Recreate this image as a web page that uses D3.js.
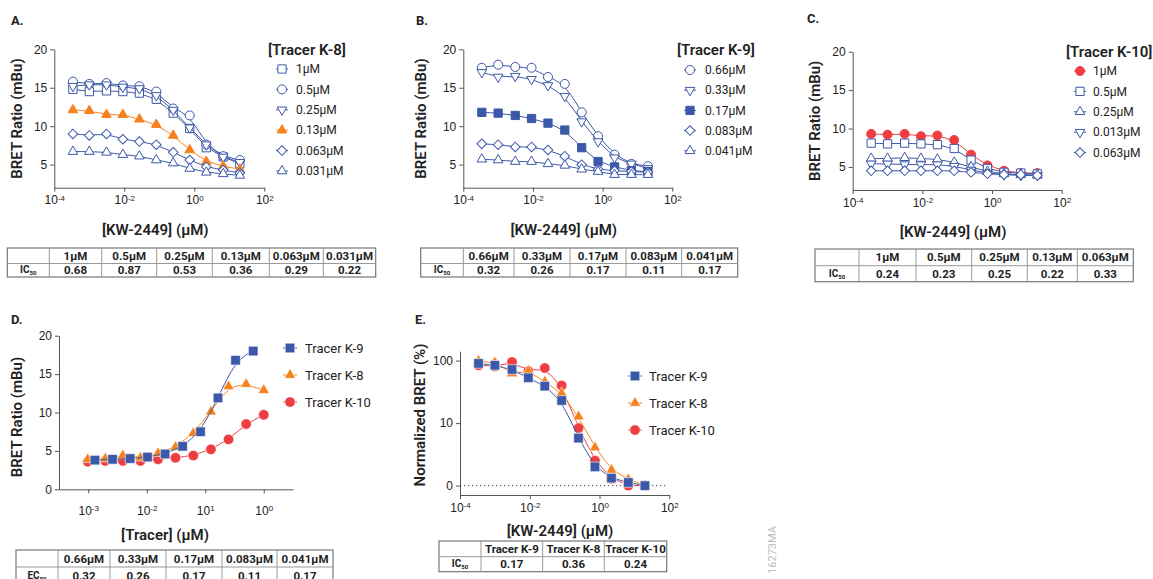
<!DOCTYPE html>
<html>
<head>
<meta charset="utf-8">
<script src="https://cdn.jsdelivr.net/npm/d3@7"></script>
<style>
  body { margin: 0; background: #fff; }
  svg { font-family: Roboto, "Noto Sans", sans-serif; }
</style>
</head>
<body>
<svg id="chart" width="1153" height="579"></svg>
<script>
// ---- data ----
// KW-2449 dilution series (µM), used by panels A, B, C and E
const kwConc = [0.00034, 0.001, 0.0031, 0.0091, 0.027, 0.082, 0.25, 0.74, 2.2, 6.7, 20];

// Panel A: Tracer K-8
const k8Labels = ['1µM', '0.5µM', '0.25µM', '0.13µM', '0.063µM', '0.031µM'];
const k8_1 = [14.8, 14.5, 14.6, 14.5, 14.3, 13.5, 11.7, 9.7, 7.2, 6.0, 5.1];
const k8_05 = [15.8, 15.5, 15.6, 15.3, 15.2, 14.5, 12.3, 11.4, 7.6, 6.1, 5.6];
const k8_025 = [15.2, 15.4, 15.4, 15.1, 14.9, 14.0, 12.1, 9.8, 7.6, 6.0, 5.3];
const k8_013 = [12.1, 12.0, 11.5, 11.5, 10.9, 10.2, 8.8, 6.9, 5.4, 4.8, 4.4];
const k8_0063 = [9.0, 8.8, 9.0, 8.3, 8.0, 7.6, 6.6, 5.6, 4.7, 4.3, 3.9];
const k8_0031 = [6.7, 6.7, 6.6, 6.3, 6.1, 5.6, 5.2, 4.5, 4.0, 3.8, 3.6];
const k8IC50 = ['0.68', '0.87', '0.53', '0.36', '0.29', '0.22'];

// Panel B: Tracer K-9
const k9Labels = ['0.66µM', '0.33µM', '0.17µM', '0.083µM', '0.041µM'];
const k9_066 = [17.6, 18.0, 17.7, 17.6, 16.4, 15.5, 11.8, 8.7, 6.3, 5.1, 4.8];
const k9_033 = [17.0, 16.4, 16.5, 16.1, 15.3, 13.9, 10.6, 8.0, 5.9, 5.1, 4.5];
const k9_017 = [11.8, 11.7, 11.4, 11.0, 10.4, 9.5, 7.2, 5.4, 4.7, 4.2, 4.1];
const k9_0083 = [7.7, 7.6, 7.3, 7.3, 6.9, 6.1, 5.0, 4.4, 4.2, 4.1, 4.0];
const k9_0041 = [5.7, 5.6, 5.4, 5.4, 5.1, 4.9, 4.4, 4.1, 3.7, 3.7, 3.7];
const k9IC50 = ['0.32', '0.26', '0.17', '0.11', '0.17'];

// Panel C: Tracer K-10
const k10Labels = ['1µM', '0.5µM', '0.25µM', '0.013µM', '0.063µM'];
const k10TableLabels = ['1µM', '0.5µM', '0.25µM', '0.13µM', '0.063µM'];
const k10_1 = [9.3, 9.2, 9.3, 9.0, 9.1, 8.5, 6.6, 5.2, 4.5, 4.2, 4.2];
const k10_05 = [8.1, 8.0, 8.1, 8.0, 7.9, 7.4, 5.9, 4.8, 4.3, 4.2, 4.1];
const k10_025 = [6.1, 6.1, 6.2, 6.1, 6.0, 5.6, 5.0, 4.4, 4.1, 4.0, 3.9];
const k10_0013 = [5.4, 5.4, 5.3, 5.3, 5.3, 5.1, 4.6, 4.2, 4.0, 3.9, 3.9];
const k10_0063 = [4.5, 4.5, 4.5, 4.5, 4.5, 4.5, 4.3, 4.1, 4.0, 4.0, 3.9];
const k10IC50 = ['0.24', '0.23', '0.25', '0.22', '0.33'];

// Panel D: tracer titrations
const dConcK9 = [0.0013, 0.0026, 0.0052, 0.0103, 0.0206, 0.041, 0.083, 0.165, 0.33, 0.66];
const dConcK8 = [0.00098, 0.00195, 0.0039, 0.0078, 0.0156, 0.031, 0.0625, 0.125, 0.25, 0.5, 1];
const dK9 = [3.8, 3.9, 4.0, 4.2, 4.6, 5.6, 7.5, 11.9, 16.8, 18.0];
const dK8 = [3.9, 4.0, 4.4, 4.1, 4.7, 5.5, 7.3, 10.1, 13.4, 13.7, 12.9];
const dK10 = [3.6, 3.7, 3.7, 3.7, 3.9, 4.1, 4.4, 5.2, 6.5, 8.5, 9.7];
const dTickValues = [0.001, 0.01, 0.1, 1];
const dTickExp = ['-3', '-2', '1', '0'];
const dTableLabels = ['0.66µM', '0.33µM', '0.17µM', '0.083µM', '0.041µM'];
const dEC50 = ['0.32', '0.26', '0.17', '0.11', '0.17'];

// Panel E: normalized BRET (%)
const eK9 = [90, 84, 72, 53, 39, 23, 7.6, 3.0, 1.2, 0.5, 0];
const eK8 = [99, 93, 62, 68, 46, 30, 12.7, 6.1, 2.5, 1.0, 0];
const eK10 = [84, 81, 95, 68, 76, 40, 9.2, 4.0, 1.1, 0, 0];
const eTickValues = [0, 10, 100];
const tracerNames = ['Tracer K-9', 'Tracer K-8', 'Tracer K-10'];
const eIC50 = ['0.17', '0.36', '0.24'];

const kwTickValues = [1e-4, 1e-2, 1, 1e2];
const kwTickExp = ['-4', '-2', '0', '2'];
const bretTicks = [5, 10, 15, 20];

// ---- styles ----
const BLUE = '#3c58a8';
const ORANGE = '#f5821f';
const RED = '#ee3e42';
const AXIS = '#555';
const TEXT = '#222';

const svg = d3.select('#chart');

function symbolPath(kind, size) {
  if (kind === 'circle') return d3.symbol(d3.symbolCircle, size)();
  if (kind === 'square' || kind === 'diamond') return d3.symbol(d3.symbolSquare, size)();
  return d3.symbol(d3.symbolTriangle, size)();
}
function symbolRotate(kind) {
  if (kind === 'down') return ' rotate(180)';
  if (kind === 'diamond') return ' rotate(45)';
  return '';
}
function markerSize(kind, big) {
  const k = big ? 1.35 : 1;
  if (kind === 'circle') return 64 * k;
  if (kind === 'square') return 68 * k;
  if (kind === 'diamond') return 46 * k;
  return 40 * k;
}

function drawMarker(g, x, y, s, big) {
  g.append('path')
    .attr('d', symbolPath(s.shape, markerSize(s.shape, big)))
    .attr('transform', `translate(${x},${y})${symbolRotate(s.shape)}`)
    .attr('fill', s.filled ? s.color : '#fff')
    .attr('stroke', s.filled ? (big ? '#fff' : s.color) : s.color)
    .attr('stroke-width', s.filled && big ? 0.6 : 1);
}

function superLabels(axisG, exps) {
  axisG.selectAll('.tick text').each(function(d, i) {
    const t = d3.select(this).text(null);
    t.append('tspan').text('10');
    t.append('tspan').attr('dy', '-0.45em').style('font-size', '8px').text(exps[i]);
  });
}

function styleAxis(g) {
  g.selectAll('.domain, .tick line').attr('stroke', AXIS);
  g.selectAll('.tick text').attr('fill', TEXT).style('font-size', '12px');
}

function drawSeries(g, x, y, xs, s, big) {
  const pts = s.values.map((v, i) => [x(xs[i]), y(v)]);
  g.append('path')
    .attr('d', d3.line().curve(d3.curveBasis)(pts))
    .attr('fill', 'none')
    .attr('stroke', s.color)
    .attr('stroke-width', 1);
  pts.forEach(p => drawMarker(g, p[0], p[1], s, big));
}

function drawLegend(g, lg, series, big) {
  if (lg.title) {
    g.append('text').attr('x', lg.titleX).attr('y', lg.titleY).attr('dy', '0.35em')
      .attr('fill', TEXT).style('font-size', '15px').style('font-weight', 600)
      .text(lg.title);
  }
  series.forEach((s, i) => {
    const yy = lg.y0 + i * lg.step;
    g.append('line').attr('x1', lg.mx - lg.half).attr('x2', lg.mx + lg.half)
      .attr('y1', yy).attr('y2', yy).attr('stroke', s.color).attr('stroke-width', 1);
    drawMarker(g, lg.mx, yy, s, big);
    g.append('text').attr('x', lg.tx).attr('y', yy).attr('dy', '0.35em')
      .attr('fill', TEXT).style('font-size', lg.fontSize)
      .text(s.label);
  });
}

function drawTable(t) {
  const g = svg.append('g');
  const xs = t.cols;
  const ys = t.rows;
  const x0 = xs[0], x1 = xs[xs.length - 1];
  g.append('rect').attr('x', x0).attr('y', ys[0]).attr('width', x1 - x0).attr('height', ys[2] - ys[0])
    .attr('fill', 'none').attr('stroke', '#777').attr('stroke-width', 1.2);
  g.append('line').attr('x1', x0).attr('x2', x1).attr('y1', ys[1]).attr('y2', ys[1])
    .attr('stroke', '#999');
  xs.slice(1, -1).forEach(cx => {
    g.append('line').attr('x1', cx).attr('x2', cx).attr('y1', ys[0]).attr('y2', ys[2])
      .attr('stroke', '#999');
  });
  t.headers.forEach((h, i) => {
    g.append('text').attr('x', (xs[i + 1] + xs[i + 2]) / 2).attr('y', (ys[0] + ys[1]) / 2)
      .attr('dy', '0.36em').attr('text-anchor', 'middle').attr('fill', TEXT)
      .style('font-size', '11.5px').style('font-weight', 'bold').text(h);
  });
  t.values.forEach((v, i) => {
    g.append('text').attr('x', (xs[i + 1] + xs[i + 2]) / 2).attr('y', (ys[1] + ys[2]) / 2)
      .attr('dy', '0.36em').attr('text-anchor', 'middle').attr('fill', TEXT)
      .style('font-size', '11.5px').style('font-weight', 'bold').text(v);
  });
  const lab = g.append('text').attr('x', (xs[0] + xs[1]) / 2).attr('y', (ys[1] + ys[2]) / 2)
    .attr('dy', '0.3em').attr('text-anchor', 'middle').attr('fill', TEXT)
    .style('font-size', '10px').style('font-weight', 'bold');
  lab.append('tspan').text(t.rowLabel);
  lab.append('tspan').attr('dy', '0.35em').style('font-size', '6px').text('50');
}

function panelLetter(x, y, txt) {
  svg.append('text').attr('x', x).attr('y', y).attr('fill', TEXT)
    .style('font-size', '13px').style('font-weight', 'bold').text(txt);
}

function axisTitleX(x, y, txt) {
  svg.append('text').attr('x', x).attr('y', y).attr('text-anchor', 'middle')
    .attr('fill', TEXT).style('font-size', '15px').style('font-weight', 600).text(txt);
}
function axisTitleY(x, y, txt) {
  svg.append('text').attr('transform', `translate(${x},${y}) rotate(-90)`)
    .attr('text-anchor', 'middle').attr('dy', '0.35em')
    .attr('fill', TEXT).style('font-size', '15px').style('font-weight', 600).text(txt);
}

// ---- panels A, B, C (BRET ratio vs KW-2449) ----
function drawBretPanel(p) {
  const g = svg.append('g');
  const x = d3.scaleLog().domain([1e-4, 1e2]).range([p.left, p.right]);
  const y = d3.scaleLinear().domain([2, 20]).range([p.bottom, p.top]);

  const gx = g.append('g').attr('transform', `translate(0,${p.bottom})`)
    .call(d3.axisBottom(x).tickValues(kwTickValues).tickSize(4).tickPadding(4).tickSizeOuter(0));
  superLabels(gx, kwTickExp);
  styleAxis(gx);

  const gy = g.append('g').attr('transform', `translate(${p.left},0)`)
    .call(d3.axisLeft(y).tickValues(bretTicks).tickSize(4).tickPadding(3).tickSizeOuter(0));
  styleAxis(gy);

  p.series.forEach(s => drawSeries(g, x, y, kwConc, s, false));
  drawLegend(g, p.legend, p.series, false);

  axisTitleX((p.left + p.right) / 2 - 4, p.xTitleY, '[KW-2449] (µM)');
  axisTitleY(p.yTitleX, (p.top + p.bottom) / 2, 'BRET Ratio (mBu)');
}

panelLetter(11, 25, 'A.');
drawBretPanel({
  left: 54.3, right: 264.3, top: 49.3, bottom: 187.7,
  xTitleY: 235, yTitleX: 17,
  series: [
    { label: k8Labels[0], values: k8_1, shape: 'square', color: BLUE },
    { label: k8Labels[1], values: k8_05, shape: 'circle', color: BLUE },
    { label: k8Labels[2], values: k8_025, shape: 'down', color: BLUE },
    { label: k8Labels[3], values: k8_013, shape: 'up', color: ORANGE, filled: true },
    { label: k8Labels[4], values: k8_0063, shape: 'diamond', color: BLUE },
    { label: k8Labels[5], values: k8_0031, shape: 'up', color: BLUE }
  ],
  legend: { title: '[Tracer K-8]', titleX: 268, titleY: 50, y0: 69, step: 20.4, mx: 282, half: 6, tx: 296, fontSize: '12px' }
});
drawTable({ cols: [7.3, 49.3, 101.7, 156.7, 212.3, 269.3, 323.3, 375.7], rows: [248, 263.5, 277],
  headers: k8Labels, values: k8IC50, rowLabel: 'IC' });

panelLetter(416, 25, 'B.');
drawBretPanel({
  left: 463.3, right: 672.3, top: 49.3, bottom: 187.7,
  xTitleY: 235, yTitleX: 421,
  series: [
    { label: k9Labels[0], values: k9_066, shape: 'circle', color: BLUE },
    { label: k9Labels[1], values: k9_033, shape: 'down', color: BLUE },
    { label: k9Labels[2], values: k9_017, shape: 'square', color: BLUE, filled: true },
    { label: k9Labels[3], values: k9_0083, shape: 'diamond', color: BLUE },
    { label: k9Labels[4], values: k9_0041, shape: 'up', color: BLUE }
  ],
  legend: { title: '[Tracer K-9]', titleX: 677, titleY: 50, y0: 70, step: 20.2, mx: 690, half: 6, tx: 705, fontSize: '12px' }
});
drawTable({ cols: [420.7, 463.3, 514, 570, 626, 681.7, 737.7], rows: [248, 263.5, 277],
  headers: k9Labels, values: k9IC50, rowLabel: 'IC' });

panelLetter(807, 23, 'C.');
drawBretPanel({
  left: 852.7, right: 1061.7, top: 51.7, bottom: 190,
  xTitleY: 237, yTitleX: 815,
  series: [
    { label: k10Labels[0], values: k10_1, shape: 'circle', color: RED, filled: true },
    { label: k10Labels[1], values: k10_05, shape: 'square', color: BLUE },
    { label: k10Labels[2], values: k10_025, shape: 'up', color: BLUE },
    { label: k10Labels[3], values: k10_0013, shape: 'down', color: BLUE },
    { label: k10Labels[4], values: k10_0063, shape: 'diamond', color: BLUE }
  ],
  legend: { title: '[Tracer K-10]', titleX: 1066, titleY: 52, y0: 71, step: 20.4, mx: 1080, half: 6, tx: 1093, fontSize: '12px' }
});
drawTable({ cols: [815, 859, 916, 971.7, 1027.3, 1077.3, 1133.3], rows: [249, 265.7, 281.7],
  headers: k10TableLabels, values: k10IC50, rowLabel: 'IC' });

// ---- panel D: tracer titration ----
(function() {
  panelLetter(11, 324, 'D.');
  const g = svg.append('g');
  const x = d3.scaleLog().domain([Math.pow(10, -3.5), Math.pow(10, 0.5)]).range([59, 293]);
  const y = d3.scaleLinear().domain([0, 20]).range([489.3, 335.7]);

  const gx = g.append('g').attr('transform', 'translate(0,489.3)')
    .call(d3.axisBottom(x).tickValues(dTickValues).tickSize(4).tickPadding(13).tickSizeOuter(0));
  superLabels(gx, dTickExp);
  styleAxis(gx);
  const gy = g.append('g').attr('transform', 'translate(59,0)')
    .call(d3.axisLeft(y).tickValues([0, 5, 10, 15, 20]).tickSize(4).tickPadding(3).tickSizeOuter(0));
  styleAxis(gy);

  const series = [
    { label: tracerNames[0], values: dK9, xs: dConcK9, shape: 'square', color: BLUE, filled: true },
    { label: tracerNames[1], values: dK8, xs: dConcK8, shape: 'up', color: ORANGE, filled: true },
    { label: tracerNames[2], values: dK10, xs: dConcK8, shape: 'circle', color: RED, filled: true }
  ];
  // draw red first so blue/orange sit on top like the figure
  [series[2], series[1], series[0]].forEach(s => drawSeries(g, x, y, s.xs, s, true));
  drawLegend(g, { y0: 348, step: 27, mx: 290, half: 7, tx: 305, fontSize: '13px' }, series, true);

  axisTitleX(165, 540, '[Tracer] (µM)');
  axisTitleY(17, 417, 'BRET Ratio (mBu)');
  drawTable({ cols: [16, 58, 110, 166, 222, 277, 333], rows: [550, 567, 584],
    headers: dTableLabels, values: dEC50, rowLabel: 'EC' });
})();

// ---- panel E: normalized BRET ----
(function() {
  panelLetter(415, 324, 'E.');
  const g = svg.append('g');
  const x = d3.scaleLog().domain([1e-4, 1e2]).range([460, 669.3]);
  // axis is linear 0-10 then log 10-100, each over the same height
  const warp = v => (v <= 10 ? v / 10 : 1 + Math.log10(v / 10));
  const yT = d3.scaleLinear().domain([-0.15, 2.15]).range([495, 351.2]);
  const y = v => yT(warp(v));

  const gx = g.append('g').attr('transform', 'translate(0,495)')
    .call(d3.axisBottom(x).tickValues(kwTickValues).tickSize(4).tickPadding(4).tickSizeOuter(0));
  superLabels(gx, kwTickExp);
  styleAxis(gx);
  const gy = g.append('g').attr('transform', 'translate(460,0)')
    .call(d3.axisLeft(yT).tickValues(eTickValues.map(warp)).tickFormat((d, i) => eTickValues[i])
      .tickSize(4).tickPadding(3).tickSizeOuter(0));
  styleAxis(gy);

  g.append('line').attr('x1', x(1e-4)).attr('x2', x(1e2) - 2).attr('y1', y(0)).attr('y2', y(0))
    .attr('stroke', '#444').attr('stroke-dasharray', '1.2,2.8');

  const series = [
    { label: tracerNames[0], values: eK9, shape: 'square', color: BLUE, filled: true },
    { label: tracerNames[1], values: eK8, shape: 'up', color: ORANGE, filled: true },
    { label: tracerNames[2], values: eK10, shape: 'circle', color: RED, filled: true }
  ];
  [series[2], series[1], series[0]].forEach(s => drawSeries(g, x, y, kwConc, s, true));
  drawLegend(g, { y0: 376, step: 27, mx: 635, half: 7, tx: 649, fontSize: '13px' }, series, true);

  axisTitleX(560, 536, '[KW-2449] (µM)');
  axisTitleY(420, 415, 'Normalized BRET (%)');
  drawTable({ cols: [439, 481, 542.7, 604.3, 666.7], rows: [541, 556.7, 571.7],
    headers: tracerNames, values: eIC50, rowLabel: 'IC' });
})();

svg.append('text').attr('transform', 'translate(776,550) rotate(-90)')
  .attr('text-anchor', 'middle').attr('fill', '#bbb').style('font-size', '11px')
  .text('16273MA');
</script>
</body>
</html>
